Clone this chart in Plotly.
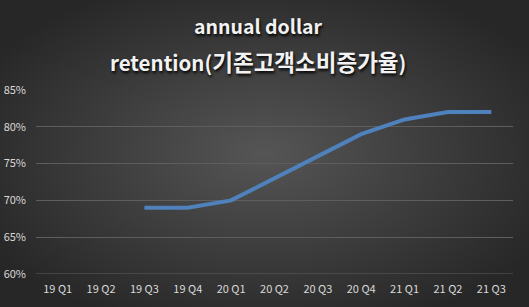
import plotly.graph_objects as go
import base64

quarters = ["19 Q1", "19 Q2", "19 Q3", "19 Q4", "20 Q1", "20 Q2", "20 Q3", "20 Q4", "21 Q1", "21 Q2", "21 Q3"]
retention = [None, None, 0.69, 0.69, 0.70, 0.73, 0.76, 0.79, 0.81, 0.82, 0.82]
y_ticks = [0.60, 0.65, 0.70, 0.75, 0.80, 0.85]
title_line1 = "annual dollar"
title_line2_latin = "retention("
title_line2_korean = "기존고객소비증가율"

W, H = 529, 307
ML, MR, MT, MB = 36, 16, 90, 33

svg = f'''<svg xmlns="http://www.w3.org/2000/svg" width="{W}" height="{H}" viewBox="0 0 {W} {H}" preserveAspectRatio="none">
<defs><radialGradient id="g" cx="50%" cy="50%" r="60%" fx="50%" fy="50%">
<stop offset="0%" stop-color="#555555"/><stop offset="100%" stop-color="#272727"/></radialGradient></defs>
<rect width="{W}" height="{H}" fill="url(#g)"/></svg>'''
src = "data:image/svg+xml;base64," + base64.b64encode(svg.encode()).decode()

pw = W - ML - MR
ph = H - MT - MB
title_x = (258 - ML) / pw

fig = go.Figure()
fig.add_trace(go.Scatter(
    x=quarters, y=retention, mode="lines",
    line=dict(color="#4f81bd", width=4),
    connectgaps=False, hoverinfo="skip",
))

tfont = dict(family="Noto Sans CJK KR", color="#f2f2f2", weight="bold",
             shadow="1px 2px 3px #000000")

fig.add_annotation(text=title_line1, xref="paper", yref="paper",
                   x=title_x, y=1 + (MT - 25) / ph,
                   xanchor="center", yanchor="middle", showarrow=False,
                   font=dict(size=19.5, **tfont))
fig.add_annotation(text=f"{title_line2_latin}<span style='font-size:22.5px'>{title_line2_korean}</span>)",
                   xref="paper", yref="paper",
                   x=title_x, y=1 + (MT - 61) / ph,
                   xanchor="center", yanchor="middle", showarrow=False,
                   font=dict(size=20.5, **tfont))

fig.update_layout(
    width=W, height=H,
    margin=dict(l=ML, r=MR, t=MT, b=MB, autoexpand=False),
    paper_bgcolor="#3a3a3a",
    plot_bgcolor="rgba(0,0,0,0)",
    showlegend=False,
    images=[dict(source=src, xref="paper", yref="paper",
                 x=-ML / pw, y=1 + MT / ph, sizex=W / pw, sizey=H / ph,
                 xanchor="left", yanchor="top", sizing="stretch", layer="below")],
    xaxis=dict(
        type="category", range=[-0.5, len(quarters) - 0.5], automargin=False,
        showgrid=False, zeroline=False, showline=False, ticks="",
        tickfont=dict(family="Noto Sans CJK KR", size=11, color="#d9d9d9"),
        ticklabelstandoff=7,
    ),
    yaxis=dict(
        range=[0.60, 0.85], tickvals=y_ticks, tickformat=".0%", automargin=False,
        showgrid=True, gridcolor="#5e5e5e", gridwidth=1,
        zeroline=False, showline=False, ticks="",
        tickfont=dict(family="Noto Sans CJK KR", size=11, color="#d9d9d9"),
        ticklabelstandoff=9,
    ),
)
fig.add_shape(type="line", xref="paper", yref="y", x0=0, x1=1, y0=0.60, y1=0.60,
              line=dict(color="#5e5e5e", width=1), layer="below")

fig.write_html("out.html")
